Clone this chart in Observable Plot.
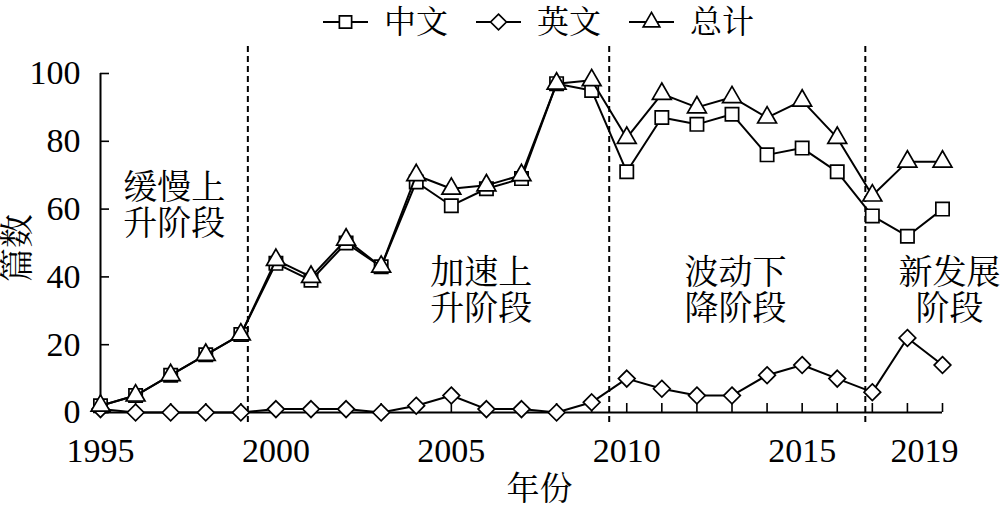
<!DOCTYPE html>
<html><head><meta charset="utf-8">
<script src="https://cdn.jsdelivr.net/npm/d3@7"></script>
<script src="https://cdn.jsdelivr.net/npm/@observablehq/plot@0.6"></script>
<style>
body{margin:0;background:#fff;}
#wrap{width:1000px;height:507px;font-family:"Liberation Serif","Noto Serif CJK SC",serif;color:#000;}
#legend{height:44px;box-sizing:border-box;padding-left:323px;display:flex;align-items:center;font-size:32px;line-height:1.2;font-family:"Liberation Serif","Noto Serif CJK SC",serif;}
.item{display:flex;align-items:center;margin-right:28px;}
.item svg{margin-right:16px;overflow:visible;}
</style></head><body><div id="wrap"><div id="legend"></div></div>
<script>
const years = [1995,1996,1997,1998,1999,2000,2001,2002,2003,2004,2005,2006,2007,2008,2009,2010,2011,2012,2013,2014,2015,2016,2017,2018,2019];
const zh    = [2,5,11,17,23,44,39,50,43,68,61,66,69,97,95,71,87,85,88,76,78,71,58,52,60];
const en    = [1,0,0,0,0,1,1,1,0,2,5,1,1,0,3,10,7,5,5,11,14,10,6,22,14];
const total = [2,5,11,17,23,45,40,51,43,70,66,67,70,97,98,81,94,90,93,87,92,81,64,74,74];
const labelYears = [1995,2000,2005,2010,2015];
const lastLabelYear = [2019];
const yTicks = [0,20,40,60,80,100];
const stageBreaks = [1999.2,2009.5,2016.8];
const stageNames = ["缓慢上\n升阶段","加速上\n升阶段","波动下\n降阶段","新发展\n阶段"];
const stageX = [1997.1,2005.85,2013.1,2019.2];
const stageY = [61,36,36,36];
const seriesNames = ["中文","英文","总计"];
const seriesKeys = ["zh","en","total"];
const seriesSymbols = ["square","diamond2","triangle"];

const rows = years.map((year,i)=>({year, zh: zh[i], en: en[i], total: total[i]}));
const stages = stageNames.map((name,i)=>({name, x: stageX[i], y: stageY[i]}));
const symR = {square:7.5, diamond2:7.5, triangle:7};
const FONT = '"Liberation Serif","Noto Serif CJK SC",serif';

const seriesMarks = seriesKeys.flatMap((k,i)=>[
  Plot.line(rows,{x:"year", y:k, stroke:"#000", strokeWidth:2}),
  Plot.dot(rows,{x:"year", y:k, symbol: seriesSymbols[i], r: symR[seriesSymbols[i]], stroke:"#000", fill:"#fff", strokeWidth:1.7})
]);

const chart = Plot.plot({
  width:1000, height:463,
  marginLeft:100, marginRight:58, marginTop:29, marginBottom:95,
  x:{domain:[1995,2019]},
  y:{domain:[0,100]},
  style:{fontFamily:FONT, fontSize:"34px", color:"#000", background:"#fff", overflow:"visible"},
  marks:[
    Plot.ruleX(stageBreaks,{stroke:"#000", strokeWidth:2, strokeDasharray:"6,4", insetTop:-27, insetBottom:-10}),
    Plot.ruleY([0],{stroke:"#000", strokeWidth:2}),
    Plot.ruleX([1995],{stroke:"#000", strokeWidth:2}),
    Plot.axisX({ticks: years, tickSize:-9, tickFormat:()=>"", label:null, strokeWidth:1.6}),
    Plot.axisX({ticks: labelYears, tickSize:0, tickPadding:25, tickFormat:d=>String(d), label:null}),
    Plot.axisX({ticks: lastLabelYear, tickSize:0, tickPadding:25, tickFormat:d=>String(d), label:null, dx:-18}),
    Plot.axisY({ticks: yTicks, tickSize:-9, tickFormat:()=>"", label:null, strokeWidth:1.6}),
    Plot.axisY({ticks: yTicks, tickSize:0, tickPadding:20, label:null}),
    Plot.text(["年份"],{frameAnchor:"bottom", textAnchor:"middle", dx:18, dy:87, fontSize:33}),
    Plot.text(["篇数"],{frameAnchor:"left", textAnchor:"middle", rotate:-90, dx:-82, dy:5, fontSize:34}),
    Plot.text(stages,{x:"x", y:"y", text:"name", fontSize:34, lineHeight:1.06, textAnchor:"middle"}),
    ...seriesMarks
  ]
});
d3.select(chart).selectAll("text").style("font-family", FONT);
document.getElementById("wrap").appendChild(chart);

// legend
const legend = document.getElementById("legend");
const symMap = {square:d3.symbolSquare, diamond2:d3.symbolDiamond2, triangle:d3.symbolTriangle};
const legSize = {square:150, diamond2:160, triangle:120};
seriesNames.forEach((name,i)=>{
  const item = document.createElement("div");
  item.className = "item";
  const svg = d3.create("svg").attr("width",45).attr("height",30);
  svg.append("line").attr("x1",0).attr("x2",45).attr("y1",15).attr("y2",15).attr("stroke","#000").attr("stroke-width",2);
  svg.append("path").attr("transform","translate(22.5,15)")
    .attr("d", d3.symbol(symMap[seriesSymbols[i]], legSize[seriesSymbols[i]])())
    .attr("fill","#fff").attr("stroke","#000").attr("stroke-width",1.7);
  item.appendChild(svg.node());
  const t = document.createElement("span");
  t.textContent = name;
  item.appendChild(t);
  legend.appendChild(item);
});
</script>
</body></html>
